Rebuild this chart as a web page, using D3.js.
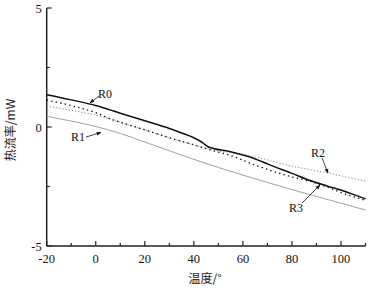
<!DOCTYPE html>
<html><head><meta charset="utf-8">
<script src="https://cdn.jsdelivr.net/npm/d3@7"></script>
<style>body{margin:0;background:#fff}svg{display:block}</style>
</head><body>
<svg id="c" width="373" height="288"></svg>
<script>
const xTicks = [-20, 0, 20, 40, 60, 80, 100];
const xMinor = [-10, 10, 30, 50, 70, 90, 110];
const yTicks = [-5, 0, 5];
const yMinor = [-2.5, 2.5];
const r0x = [-20,-10,0,7,10,20,30,35,40,43,46,48,55,60,66,70,80,88,95,100,105,110];
const r0y = [1.36,1.14,0.9,0.68,0.58,0.26,-0.06,-0.25,-0.45,-0.62,-0.84,-0.9,-1.04,-1.18,-1.38,-1.55,-1.95,-2.27,-2.5,-2.65,-2.83,-3.02];
const r1x = [-20,-10,0,10,20,30,40,50,60,70,80,90,100,110];
const r1y = [0.45,0.25,0.02,-0.27,-0.63,-1.0,-1.36,-1.7,-2.02,-2.33,-2.63,-2.92,-3.2,-3.49];
const r2x = [-20,-10,0,7,10,20,30,41,50,60,65,80,88,100,110];
const r2y = [0.88,0.7,0.5,0.3,0.2,-0.12,-0.45,-0.78,-1.0,-1.15,-1.25,-1.65,-1.8,-2.05,-2.28];
const r3x = [-20,-10,0,7,10,20,30,41,47,55,65,80,88,95,100,110];
const r3y = [1.13,0.9,0.6,0.3,0.2,-0.12,-0.45,-0.78,-0.97,-1.2,-1.6,-2.1,-2.3,-2.55,-2.75,-3.08];
const labels = ["R0","R1","R2","R3"];

const svg = d3.select("#c");
const x = d3.scaleLinear().domain([-20,110]).range([46.7,365.5]);
const y = d3.scaleLinear().domain([-5,5]).range([246,8]);
const font = "'Liberation Serif','Times New Roman',serif";
const axisColor = "#222";

const g = svg.append("g");
g.append("line").attr("x1",x(-20)).attr("x2",x(110)).attr("y1",y(-5)).attr("y2",y(-5)).attr("stroke",axisColor).attr("stroke-width",1.5);
g.append("line").attr("x1",x(-20)).attr("x2",x(-20)).attr("y1",y(-5)).attr("y2",y(5)).attr("stroke",axisColor).attr("stroke-width",1.5);
xTicks.forEach(t=>{
  g.append("line").attr("x1",x(t)).attr("x2",x(t)).attr("y1",y(-5)).attr("y2",y(-5)-5).attr("stroke",axisColor).attr("stroke-width",1.2);
  g.append("text").attr("x",x(t)).attr("y",y(-5)+17).attr("text-anchor","middle").attr("font-family",font).attr("font-size",12.5).attr("fill","#111").text(t);
});
xMinor.forEach(t=>{
  g.append("line").attr("x1",x(t)).attr("x2",x(t)).attr("y1",y(-5)).attr("y2",y(-5)-3).attr("stroke",axisColor).attr("stroke-width",1.2);
});
yTicks.forEach(t=>{
  g.append("line").attr("x1",x(-20)).attr("x2",x(-20)+5).attr("y1",y(t)).attr("y2",y(t)).attr("stroke",axisColor).attr("stroke-width",1.2);
  g.append("text").attr("x",x(-20)-5).attr("y",y(t)+4.5).attr("text-anchor","end").attr("font-family",font).attr("font-size",12.5).attr("fill","#111").text(t);
});
yMinor.forEach(t=>{
  g.append("line").attr("x1",x(-20)).attr("x2",x(-20)+3).attr("y1",y(t)).attr("y2",y(t)).attr("stroke",axisColor).attr("stroke-width",1.2);
});
svg.append("text").attr("x",205).attr("y",283).attr("text-anchor","middle").attr("font-family","'Noto Sans CJK SC',"+font).attr("font-size",12).attr("fill","#222").text("温度/°");
svg.append("text").attr("transform","translate(15,130) rotate(-90)").attr("text-anchor","middle").attr("font-family","'Noto Sans CJK SC',"+font).attr("font-size",12).attr("fill","#222").text("热流率/mW");

const line = d3.line().x(d=>x(d[0])).y(d=>y(d[1])).curve(d3.curveMonotoneX);
function draw(xs, ys, color, w, dash){
  const p = svg.append("path").datum(xs.map((v,i)=>[v,ys[i]])).attr("d",line).attr("fill","none").attr("stroke",color).attr("stroke-width",w);
  if(dash) p.attr("stroke-dasharray",dash);
}
draw(r1x,r1y,"#a0a0a0",1,null);
draw(r2x,r2y,"#8a8a8a",1,"1.2,2");
draw(r3x,r3y,"#111",1.3,"1.4,3.2");
draw(r0x,r0y,"#111",1.5,null);

svg.append("defs").append("marker").attr("id","ah").attr("viewBox","0 0 10 10").attr("refX",9).attr("refY",5)
  .attr("markerWidth",6).attr("markerHeight",6).attr("orient","auto")
  .append("path").attr("d","M0,1 L10,5 L0,9 Z").attr("fill","#111");
const ann = [
  {t:labels[0], tx:98, ty:98, x1:99, y1:96, x2:90, y2:103},
  {t:labels[1], tx:71, ty:141, x1:86, y1:137, x2:101, y2:132.5},
  {t:labels[2], tx:311, ty:157, x1:322, y1:158, x2:328, y2:173},
  {t:labels[3], tx:289, ty:212, x1:302, y1:203, x2:320, y2:185}
];
ann.forEach(a=>{
  svg.append("line").attr("x1",a.x1).attr("y1",a.y1).attr("x2",a.x2).attr("y2",a.y2).attr("stroke","#111").attr("stroke-width",0.8).attr("marker-end","url(#ah)");
  svg.append("text").attr("x",a.tx).attr("y",a.ty).attr("font-family",font).attr("font-size",12).attr("fill","#111").text(a.t);
});
</script>
</body></html>
